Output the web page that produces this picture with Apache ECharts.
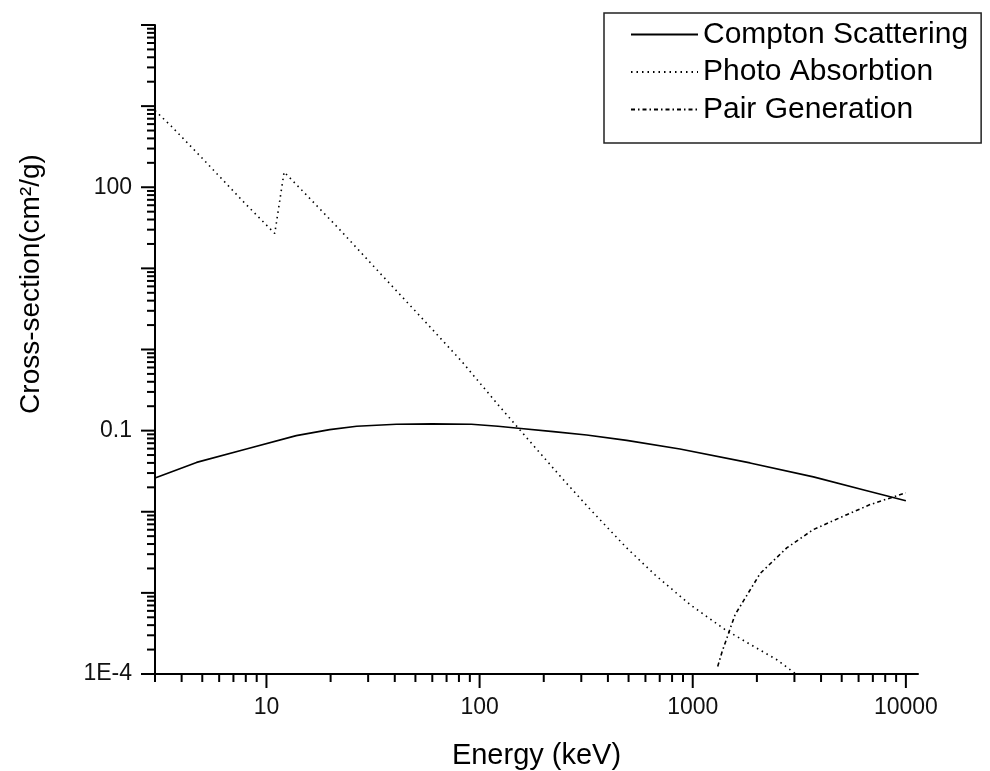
<!DOCTYPE html>
<html><head><meta charset="utf-8">
<script src="https://cdn.jsdelivr.net/npm/echarts@6/dist/echarts.min.js"></script>
<style>html,body{margin:0;padding:0;background:#fff}#c{width:990px;height:771px}</style>
</head><body><div id="c"></div>
<script>
// ---- data (energy in keV, cross-section in cm^2/g) ----
const comptonE = [3, 4.7, 8.05, 13.8, 19.8, 26.5, 40.7, 60, 91.6, 122, 152, 222, 318, 490, 871, 1857, 3683, 6560, 10000];
const comptonV = [0.0261, 0.0406, 0.0594, 0.0868, 0.1028, 0.113, 0.12, 0.121, 0.12, 0.113, 0.107, 0.0972, 0.0885, 0.0759, 0.0594, 0.040, 0.0269, 0.0182, 0.0137];

const photoE = [3, 3.58, 5.03, 7.76, 10.94, 12.1, 14.3, 21.9, 34.0, 54.4, 82.3, 122, 172, 243, 324, 490, 665, 972, 1419, 1795, 2480, 3050];
const photoV = [880, 565, 224, 67.1, 26.9, 154, 98.4, 30.7, 8.81, 2.34, 0.717, 0.209, 0.0738, 0.0261, 0.0113, 3.58e-3, 1.67e-3, 7.16e-4, 3.52e-4, 2.45e-4, 1.50e-4, 1.0e-4];

const pairE = [1310, 1375, 1580, 2070, 2760, 3670, 5280, 6790, 10000];
const pairV = [1.24e-4, 1.9e-4, 5.38e-4, 1.73e-3, 3.58e-3, 6.01e-3, 9.2e-3, 0.01225, 0.0171];

const seriesNames = ['Compton Scattering', 'Photo Absorbtion', 'Pair Generation'];

const xTickLabelValues = [10, 100, 1000, 10000];
const xTickLabels = ['10', '100', '1000', '10000'];
const yTickLabelValues = [1e-4, 0.1, 100];
const yTickLabels = ['1E-4', '0.1', '100'];

const xMin = 3, xMax = 11400, yMin = 1e-4, yMax = 1e4;

// ---- helpers ----
function pairs(xs, ys) { return xs.map((x, i) => [x, ys[i]]); }
function labelFor(v, vals, texts) {
  for (let i = 0; i < vals.length; i++) {
    if (Math.abs(Math.log10(v) - Math.log10(vals[i])) < 1e-6) return texts[i];
  }
  return '';
}
// axis tick decorations (major = 1, minor = 0), placed through the axes' scales
const xTicks = [];
for (let k = 0; k <= 4; k++) for (let m = 1; m <= 9; m++) {
  const v = m * Math.pow(10, k);
  if (v >= xMin && v <= xMax) xTicks.push([v, yMin, m === 1 ? 1 : 0]);
}
const yTicks = [];
for (let k = -4; k <= 4; k++) for (let m = 1; m <= 9; m++) {
  const v = m * Math.pow(10, k);
  if (v >= yMin * 0.999 && v <= yMax * 1.001) yTicks.push([xMin, v, m === 1 ? 1 : 0]);
}

const FONT = 'Arial, "Liberation Sans", sans-serif';
const chart = echarts.init(document.getElementById('c'), null, {renderer: 'canvas'});

chart.setOption({
  animation: false,
  backgroundColor: '#fff',
  grid: {left: 155, right: 72, top: 25, bottom: 97, containLabel: false, outerBoundsMode: 'none'},
  legend: {
    data: seriesNames,
    orient: 'vertical',
    left: 604, top: 13,
    padding: [6.5, 13, 18.5, 26],
    itemGap: 7.5,
    itemWidth: 67, itemHeight: 14,
    borderColor: '#222', borderWidth: 1.5,
    itemStyle: {color: 'rgba(0,0,0,0)', borderColor: 'rgba(0,0,0,0)', borderWidth: 0, opacity: 0},
    textStyle: {fontFamily: FONT, fontSize: 30, color: '#000', lineHeight: 30},
    selectedMode: false
  },
  xAxis: {
    type: 'log', min: xMin, max: xMax,
    name: 'Energy (keV)', nameLocation: 'middle', nameGap: 67,
    nameTextStyle: {fontFamily: FONT, fontSize: 29, color: '#000'},
    axisLine: {show: true, onZero: false, lineStyle: {color: '#000', width: 2}},
    axisTick: {show: false},
    splitLine: {show: false},
    axisLabel: {
      margin: 22, fontFamily: FONT, fontSize: 23, color: '#111',
      showMinLabel: false, showMaxLabel: false,
      formatter: v => labelFor(v, xTickLabelValues, xTickLabels)
    }
  },
  yAxis: {
    type: 'log', min: yMin, max: yMax,
    axisLine: {show: true, onZero: false, lineStyle: {color: '#000', width: 2}},
    axisTick: {show: false},
    splitLine: {show: false},
    axisLabel: {
      margin: 23, fontFamily: FONT, fontSize: 23, color: '#111',
      formatter: v => labelFor(v, yTickLabelValues, yTickLabels)
    }
  },
  graphic: [{
    type: 'text', x: 31, y: 284, rotation: Math.PI / 2,
    style: {text: 'Cross-section(cm²/g)', font: '28px ' + FONT, fill: '#000', align: 'center', verticalAlign: 'middle'}
  }],
  series: [
    {name: seriesNames[0], type: 'line', data: pairs(comptonE, comptonV), symbol: 'none', smooth: false,
     lineStyle: {color: '#000', width: 1.6, type: 'solid'}, itemStyle: {color: '#000'}, z: 3},
    {name: seriesNames[1], type: 'line', data: pairs(photoE, photoV), symbol: 'none', smooth: false,
     lineStyle: {color: '#000', width: 1.6, type: [1.5, 4]}, itemStyle: {color: '#000'}, z: 3},
    {name: seriesNames[2], type: 'line', data: pairs(pairE, pairV), symbol: 'none', smooth: false,
     lineStyle: {color: '#000', width: 1.6, type: [4, 3, 1.5, 3]}, itemStyle: {color: '#000'}, z: 3},
    {name: 'xticks', type: 'custom', data: xTicks, silent: true, clip: false, z: 5,
     renderItem: (params, api) => {
       const p = api.coord([api.value(0), api.value(1)]);
       const len = api.value(2) ? 14 : 8;
       return {type: 'line', shape: {x1: p[0], y1: p[1], x2: p[0], y2: p[1] + len}, style: {stroke: '#000', lineWidth: 2}};
     }},
    {name: 'yticks', type: 'custom', data: yTicks, silent: true, clip: false, z: 5,
     renderItem: (params, api) => {
       const p = api.coord([api.value(0), api.value(1)]);
       const len = api.value(2) ? 14 : 8;
       return {type: 'line', shape: {x1: p[0], y1: p[1], x2: p[0] - len, y2: p[1]}, style: {stroke: '#000', lineWidth: 2}};
     }}
  ]
});
</script>
</body></html>
